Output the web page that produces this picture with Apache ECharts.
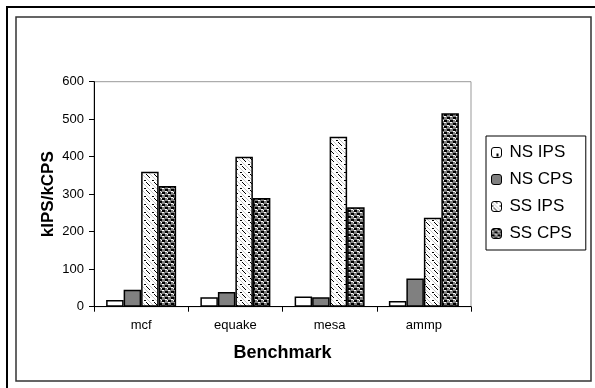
<!DOCTYPE html>
<html><head><meta charset="utf-8">
<script src="https://cdn.jsdelivr.net/npm/echarts@6/dist/echarts.min.js"></script>
<style>html,body{margin:0;padding:0;background:#fff}#c{width:595px;height:388px}</style>
</head><body><div id="c"></div>
<script>
const categories = ['mcf', 'equake', 'mesa', 'ammp'];
const seriesNames = ['NS IPS', 'NS CPS', 'SS IPS', 'SS CPS'];
const nsIps = [18, 25, 27, 15];
const nsCps = [45, 39, 25, 75];
const ssIps = [360, 400, 453, 237];
const ssCps = [322, 290, 265, 516];
const yTicks = [0, 100, 200, 300, 400, 500, 600];

function pat(size, draw) {
  const c = document.createElement('canvas');
  c.width = size; c.height = size;
  const g = c.getContext('2d');
  draw(g, size);
  return { image: c, repeat: 'repeat' };
}
const pNsIps = pat(12, (g) => { g.fillStyle = '#fff'; g.fillRect(0,0,12,12); g.fillStyle = '#000'; g.fillRect(5,6,2,3); });
const pNsCps = '#808080';
const pSsIps = pat(8, (g) => {
  g.fillStyle = '#fff'; g.fillRect(0,0,8,8);
  g.fillStyle = '#c8c8c8';
  for (let i = 0; i < 8; i++) g.fillRect(i, i, 1, 1);
  g.fillStyle = '#000';
  for (let i = 2; i < 6; i++) g.fillRect(i, (i+4)%8, 1, 1);
  g.fillRect(0,4,2,1);
});
const pSsCps = pat(6, (g) => {
  g.fillStyle = '#808080'; g.fillRect(0,0,6,6);
  g.fillStyle = '#000'; g.fillRect(0,0,3,2); g.fillRect(3,3,3,2);
  g.fillStyle = '#fff'; g.fillRect(0,2,2,1); g.fillRect(3,5,2,1); g.fillRect(5,0,1,1);
});
const fills = [pNsIps, pNsCps, pSsIps, pSsCps];
const data = [nsIps, nsCps, ssIps, ssCps];

const chart = echarts.init(document.getElementById('c'));
chart.setOption({
  animation: false,
  backgroundColor: '#fff',
  textStyle: { fontFamily: 'Liberation Sans, Arial, sans-serif' },
  graphic: [
    { type: 'rect', shape: { x: 7, y: 7, width: 600, height: 400 }, style: { fill: 'none', stroke: '#000', lineWidth: 2 }, silent: true },
    { type: 'rect', shape: { x: 16, y: 17, width: 575, height: 364 }, style: { fill: 'none', stroke: '#333', lineWidth: 1.5 }, silent: true }
  ],
  grid: { left: 94, right: 124, top: 81.7, bottom: 81.3, show: true, borderColor: '#999', borderWidth: 1 },
  legend: {
    orient: 'vertical', left: 486, top: 136,
    data: seriesNames,
    itemWidth: 10, itemHeight: 10, itemGap: 10,
    padding: [8, 13, 8, 5],
    borderColor: '#000', borderWidth: 1,
    textStyle: { fontSize: 17, color: '#000', padding: [0,0,0,3] },
    itemStyle: { borderColor: '#000', borderWidth: 1 }
  },
  xAxis: {
    type: 'category', data: categories,
    name: 'Benchmark', nameLocation: 'middle', nameGap: 37,
    nameMoveOverlap: false,
    nameTextStyle: { fontSize: 18, fontWeight: 'bold', color: '#000' },
    axisLine: { lineStyle: { color: '#000', width: 1 } },
    axisTick: { show: true, length: 5, lineStyle: { color: '#000' } },
    axisLabel: { fontSize: 13, color: '#000', margin: 12 }
  },
  yAxis: {
    type: 'value', min: 0, max: 600, interval: 100,
    name: 'kIPS/kCPS', nameLocation: 'middle', nameGap: 37,
    nameMoveOverlap: false,
    nameTextStyle: { fontSize: 17, fontWeight: 'bold', color: '#000' },
    axisLine: { show: true, lineStyle: { color: '#000', width: 1 } },
    axisTick: { show: true, length: 5, lineStyle: { color: '#000' } },
    axisLabel: { fontSize: 13, color: '#000', margin: 10, formatter: (v) => yTicks.includes(v) ? String(v) : '' },
    splitLine: { show: false }
  },
  series: seriesNames.map((n, i) => ({
    name: n, type: 'bar', data: data[i],
    barWidth: 17.5, barGap: '0%',
    itemStyle: { color: fills[i], borderColor: '#000', borderWidth: 1.5 }
  }))
});
</script></body></html>
